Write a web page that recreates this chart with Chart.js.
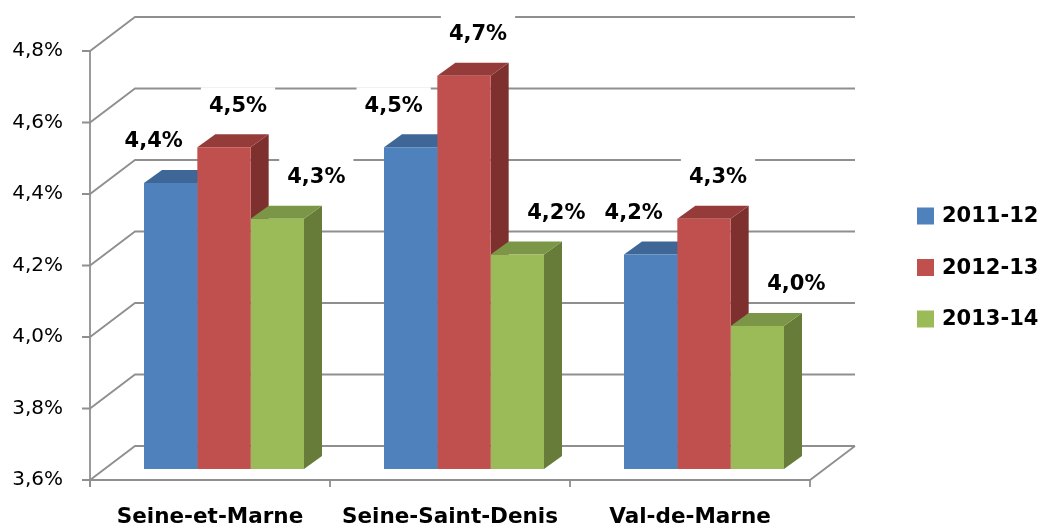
<!DOCTYPE html>
<html><head><meta charset="utf-8">
<script src="https://cdn.jsdelivr.net/npm/chart.js@4.4.1/dist/chart.umd.min.js"></script>
<style>html,body{margin:0;padding:0;background:#fff;} #wrap{width:1042px;height:528px;}</style>
</head><body><div id="wrap"><canvas id="c" width="1042" height="528"></canvas></div>
<script>
// ---- data ----
const categories = ['Seine-et-Marne', 'Seine-Saint-Denis', 'Val-de-Marne'];
const seriesNames = ['2011-12', '2012-13', '2013-14'];
const values2011 = [4.4, 4.5, 4.2];
const values2012 = [4.5, 4.7, 4.3];
const values2013 = [4.3, 4.2, 4.0];
const yTicks = [3.6, 3.8, 4.0, 4.2, 4.4, 4.6, 4.8];

// ---- styles ----
const frontColors = ['#4F81BD', '#C0504D', '#9BBB59'];
const topColors = ['#3E6797', '#953C3A', '#7B9647'];
const sideColors = ['#385D88', '#7D302E', '#667C38'];
const labelShift = [-17, 14, 39];
const FRONT = {dx: -14, dy: 11};
const BACK = {dx: 31, dy: -23};
const DEPTH = {dx: 18, dy: -13};
const FONT = "'DejaVu Sans', sans-serif";
const GRID = '#8f8f8f';

const fmt = v => v.toFixed(1).replace('.', ',') + '%';

const threeD = {
  id: 'threeD',
  beforeDatasetsDraw(chart) {
    const ctx = chart.ctx, a = chart.chartArea, ys = chart.scales.y;
    ctx.save();
    ctx.strokeStyle = GRID;
    ctx.lineWidth = 1.8;
    ctx.lineCap = 'butt';
    yTicks.forEach(v => {
      const y = ys.getPixelForValue(v);
      ctx.beginPath();
      ctx.moveTo(a.left + FRONT.dx - 8, y + FRONT.dy);
      ctx.lineTo(a.left + FRONT.dx, y + FRONT.dy);
      ctx.lineTo(a.left + BACK.dx, y + BACK.dy);
      ctx.lineTo(a.right + BACK.dx, y + BACK.dy);
      ctx.stroke();
    });
    const yTop = ys.getPixelForValue(yTicks[yTicks.length - 1]);
    const yBot = ys.getPixelForValue(yTicks[0]);
    ctx.beginPath();
    ctx.moveTo(a.left + FRONT.dx, yTop + FRONT.dy);
    ctx.lineTo(a.left + FRONT.dx, yBot + FRONT.dy + 7);
    ctx.stroke();
    ctx.beginPath();
    ctx.moveTo(a.left + FRONT.dx, yBot + FRONT.dy);
    ctx.lineTo(a.right + FRONT.dx, yBot + FRONT.dy);
    ctx.lineTo(a.right + BACK.dx, yBot + BACK.dy);
    ctx.stroke();
    const n = categories.length;
    for (let i = 0; i <= n; i++) {
      const x = a.left + FRONT.dx + i * (a.right - a.left) / n;
      ctx.beginPath();
      ctx.moveTo(x, yBot + FRONT.dy);
      ctx.lineTo(x, yBot + FRONT.dy + 7);
      ctx.stroke();
    }
    const metas = chart.data.datasets.map((d, i) => chart.getDatasetMeta(i));
    for (let j = 0; j < n; j++) {
      metas.forEach((meta, i) => {
        const el = meta.data[j];
        const x0 = el.x - el.width / 2, x1 = el.x + el.width / 2;
        const yt = el.y, yb = Math.min(el.base, yBot);
        ctx.fillStyle = sideColors[i];
        ctx.beginPath();
        ctx.moveTo(x1, yt);
        ctx.lineTo(x1 + DEPTH.dx, yt + DEPTH.dy);
        ctx.lineTo(x1 + DEPTH.dx, yb + DEPTH.dy);
        ctx.lineTo(x1, yb);
        ctx.closePath();
        ctx.fill();
        ctx.fillStyle = topColors[i];
        ctx.beginPath();
        ctx.moveTo(x0, yt);
        ctx.lineTo(x1, yt);
        ctx.lineTo(x1 + DEPTH.dx, yt + DEPTH.dy);
        ctx.lineTo(x0 + DEPTH.dx, yt + DEPTH.dy);
        ctx.closePath();
        ctx.fill();
      });
    }
    ctx.restore();
  },
  afterDatasetsDraw(chart) {
    const ctx = chart.ctx;
    ctx.save();
    ctx.font = 'bold 21px ' + FONT;
    ctx.textAlign = 'center';
    ctx.textBaseline = 'middle';
    chart.data.datasets.forEach((ds, i) => {
      const meta = chart.getDatasetMeta(i);
      meta.data.forEach((el, j) => {
        const txt = fmt(ds.data[j]);
        const cx = el.x + labelShift[i];
        const cy = el.y - 41;
        const w = ctx.measureText(txt).width;
        ctx.fillStyle = '#fff';
        ctx.fillRect(cx - w / 2 - 8, cy - 19, w + 16, 35);
        ctx.fillStyle = '#000';
        ctx.fillText(txt, cx, cy);
      });
    });
    ctx.restore();
  },
  afterDraw(chart) {
    const ctx = chart.ctx;
    ctx.save();
    ctx.font = 'bold 21px ' + FONT;
    ctx.textAlign = 'left';
    ctx.textBaseline = 'middle';
    chart.data.datasets.forEach((ds, i) => {
      const cy = 216 + i * 51.5;
      ctx.fillStyle = ds.backgroundColor;
      ctx.fillRect(917, cy - 8.5, 17, 17);
      ctx.fillStyle = '#000';
      ctx.fillText(ds.label, 942, cy + 1);
    });
    ctx.restore();
  }
};

new Chart(document.getElementById('c'), {
  type: 'bar',
  data: {
    labels: categories,
    datasets: [
      {label: seriesNames[0], data: values2011, backgroundColor: frontColors[0]},
      {label: seriesNames[1], data: values2012, backgroundColor: frontColors[1]},
      {label: seriesNames[2], data: values2013, backgroundColor: frontColors[2]}
    ]
  },
  options: {
    responsive: false,
    animation: false,
    layout: {padding: {left: 0, right: 218, top: 40, bottom: 0}},
    datasets: {bar: {categoryPercentage: 2 / 3, barPercentage: 1, borderWidth: 0, base: yTicks[0]}},
    plugins: {legend: {display: false}, tooltip: {enabled: false}},
    scales: {
      x: {
        grid: {display: false, drawTicks: false},
        border: {display: false},
        ticks: {font: {family: FONT, size: 21.5, weight: 'bold'}, color: '#000', padding: 36, labelOffset: -14, maxRotation: 0, autoSkip: false},
        afterFit: s => { s.height = 59; s.paddingLeft = 0; s.paddingRight = 0; }
      },
      y: {
        min: 3.6, max: 4.8,
        grid: {display: false, drawTicks: false},
        border: {display: false},
        ticks: {font: {family: FONT, size: 20}, color: '#000', padding: 41, labelOffset: 11, callback: v => fmt(v)},
        afterBuildTicks: s => { s.ticks = yTicks.map(v => ({value: v})); },
        afterFit: s => { s.width = 104; s.paddingTop = 0; s.paddingBottom = 0; }
      }
    }
  },
  plugins: [threeD]
});
</script>
</body></html>
